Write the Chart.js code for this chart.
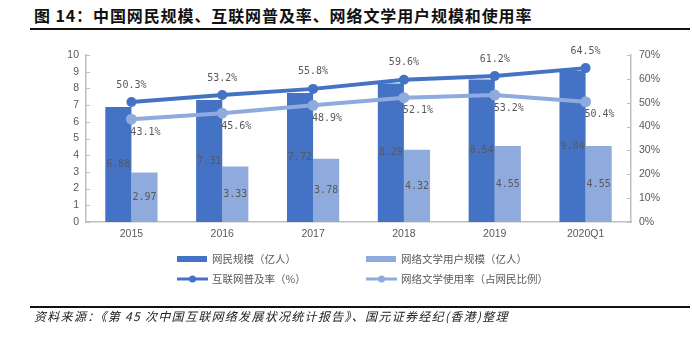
<!DOCTYPE html>
<html>
<head>
<meta charset="utf-8">
<script src="https://cdn.jsdelivr.net/npm/chart.js@4"></script>
<style>
html, body { margin: 0; padding: 0; background: #fff; }
#wrap { position: relative; width: 692px; height: 337px; overflow: hidden; }
#chart { position: absolute; left: 0; top: 0; }
.title { position: absolute; left: 34px; top: 4px; font: bold 16px "Noto Sans CJK SC"; letter-spacing: 0.9px; color: #111; line-height: 22px; white-space: nowrap; }
.rule { position: absolute; left: 30px; right: 2px; height: 2px; background: #111; }
.src { position: absolute; left: 34px; top: 307px; font: italic 12px "Noto Sans CJK SC"; letter-spacing: 1.3px; color: #222; line-height: 17px; white-space: nowrap; }
</style>
</head>
<body>
<div id="wrap">
  <div class="title">图 14：中国网民规模、互联网普及率、网络文学用户规模和使用率</div>
  <div class="rule" style="top:28px"></div>
  <canvas id="chart" width="692" height="337"></canvas>
  <div class="rule" style="top:306px"></div>
  <div class="src">资料来源：《第 45 次中国互联网络发展状况统计报告》、国元证券经纪(香港)整理</div>
</div>
<script>
// data
var years = ["2015", "2016", "2017", "2018", "2019", "2020Q1"];
var netUsers = [6.88, 7.31, 7.72, 8.29, 8.54, 9.04];     // 网民规模（亿人）
var litUsers = [2.97, 3.33, 3.78, 4.32, 4.55, 4.55];     // 网络文学用户规模（亿人）
var netRate = [50.3, 53.2, 55.8, 59.6, 61.2, 64.5];      // 互联网普及率（%）
var litRate = [43.1, 45.6, 48.9, 52.1, 53.2, 50.4];      // 网络文学使用率（%）
var leftTicks = [0, 1, 2, 3, 4, 5, 6, 7, 8, 9, 10];
var rightTicks = [0, 10, 20, 30, 40, 50, 60, 70];

var dark = "#4472C4";
var light = "#8FAADC";
var grey = "#595959";

// value labels drawn on the canvas
var valueLabels = {
  id: "valueLabels",
  afterDatasetsDraw: function (chart) {
    var ctx = chart.ctx;
    ctx.save();
    ctx.font = '10px "DejaVu Sans Mono"';
    ctx.fillStyle = grey;
    ctx.textAlign = "center";
    ctx.textBaseline = "middle";
    chart.data.datasets.forEach(function (ds, i) {
      var meta = chart.getDatasetMeta(i);
      meta.data.forEach(function (el, j) {
        var v = ds.data[j];
        if (ds.type === "bar") {
          ctx.fillText(v.toFixed(2), el.x, (el.y + el.base) / 2);
        } else {
          ctx.fillText(v.toFixed(1) + "%", el.x + ds.labelDx, el.y + ds.labelDy);
        }
      });
    });
    ctx.restore();
  }
};

// small inward tick marks on both value axes
var axisTicks = {
  id: "axisTicks",
  afterDraw: function (chart) {
    var ctx = chart.ctx;
    ctx.save();
    ctx.strokeStyle = "#bfbfbf";
    ctx.lineWidth = 1;
    ["y", "y1"].forEach(function (id) {
      var s = chart.scales[id];
      var x0 = id === "y" ? s.right : s.left;
      var dir = id === "y" ? 1 : -1;
      s.ticks.forEach(function (t, k) {
        var py = Math.round(s.getPixelForTick(k)) + 0.5;
        ctx.beginPath();
        ctx.moveTo(x0, py);
        ctx.lineTo(x0 + dir * 4, py);
        ctx.stroke();
      });
    });
    ctx.restore();
  }
};

// two-column legend under the plot
var legendBox = {
  id: "legendBox",
  afterDraw: function (chart) {
    var ctx = chart.ctx;
    var spots = [[177, 259], [366, 259], [177, 279], [366, 279]];
    ctx.save();
    ctx.font = '10.5px "Noto Sans CJK SC"';
    ctx.textBaseline = "middle";
    ctx.textAlign = "left";
    chart.data.datasets.forEach(function (ds, i) {
      var p = spots[i];
      var c = ds.type === "bar" ? ds.backgroundColor : ds.borderColor;
      if (ds.type === "bar") {
        ctx.fillStyle = c;
        ctx.fillRect(p[0], p[1] - 3, 30, 6);
      } else {
        ctx.strokeStyle = c;
        ctx.lineWidth = 3;
        ctx.beginPath();
        ctx.moveTo(p[0], p[1]);
        ctx.lineTo(p[0] + 31, p[1]);
        ctx.stroke();
        ctx.fillStyle = c;
        ctx.beginPath();
        ctx.arc(p[0] + 15.5, p[1], 3.5, 0, Math.PI * 2);
        ctx.fill();
      }
      ctx.fillStyle = grey;
      ctx.fillText(ds.label, p[0] + 35, p[1]);
    });
    ctx.restore();
  }
};

var ctx = document.getElementById("chart");
var myChart = new Chart(ctx, {
  data: {
    labels: years,
    datasets: [{
      type: "bar",
      label: "网民规模（亿人）",
      data: netUsers,
      backgroundColor: dark,
      yAxisID: "y",
      order: 2,
      barPercentage: 1,
      categoryPercentage: 0.575
    }, {
      type: "bar",
      label: "网络文学用户规模（亿人）",
      data: litUsers,
      backgroundColor: light,
      yAxisID: "y",
      order: 2,
      barPercentage: 1,
      categoryPercentage: 0.575
    }, {
      type: "line",
      label: "互联网普及率（%）",
      data: netRate,
      borderColor: dark,
      backgroundColor: dark,
      borderWidth: 4,
      pointRadius: 5,
      pointBackgroundColor: dark,
      pointBorderWidth: 0,
      yAxisID: "y1",
      order: 0,
      labelDx: 0,
      labelDy: -17
    }, {
      type: "line",
      label: "网络文学使用率（占网民比例）",
      data: litRate,
      borderColor: light,
      backgroundColor: light,
      borderWidth: 4,
      pointRadius: 5.5,
      pointBackgroundColor: light,
      pointBorderWidth: 0,
      yAxisID: "y1",
      order: 1,
      labelDx: 14,
      labelDy: 13
    }]
  },
  options: {
    responsive: false,
    animation: false,
    layout: { padding: { top: 55, left: 0, right: 0, bottom: 0 } },
    plugins: {
      legend: { display: false },
      tooltip: { enabled: false }
    },
    scales: {
      x: {
        grid: { display: false, drawTicks: false },
        border: { display: true, color: "#bfbfbf", width: 1.5 },
        ticks: { color: grey, font: { family: "Liberation Sans", size: 10.5 }, padding: 6 },
        afterFit: function (s) { s.height = 337 - 222; }
      },
      y: {
        position: "left",
        min: 0,
        max: 10,
        afterBuildTicks: function (s) { s.ticks = leftTicks.map(function (v) { return { value: v }; }); },
        grid: { display: false, drawTicks: false },
        border: { display: true, color: "#bfbfbf", width: 1.5 },
        ticks: { color: grey, font: { family: "Liberation Sans", size: 10.5 }, padding: 7 },
        afterFit: function (s) { s.width = 86; }
      },
      y1: {
        position: "right",
        min: 0,
        max: 70,
        afterBuildTicks: function (s) { s.ticks = rightTicks.map(function (v) { return { value: v }; }); },
        grid: { display: false, drawTicks: false },
        border: { display: true, color: "#bfbfbf", width: 1.5 },
        ticks: {
          color: grey,
          font: { family: "Liberation Sans", size: 10.5 },
          padding: 8,
          callback: function (v) { return v + "%"; }
        },
        afterFit: function (s) { s.width = 692 - 631; }
      }
    }
  },
  plugins: [valueLabels, axisTicks, legendBox]
});
</script>
</body>
</html>
